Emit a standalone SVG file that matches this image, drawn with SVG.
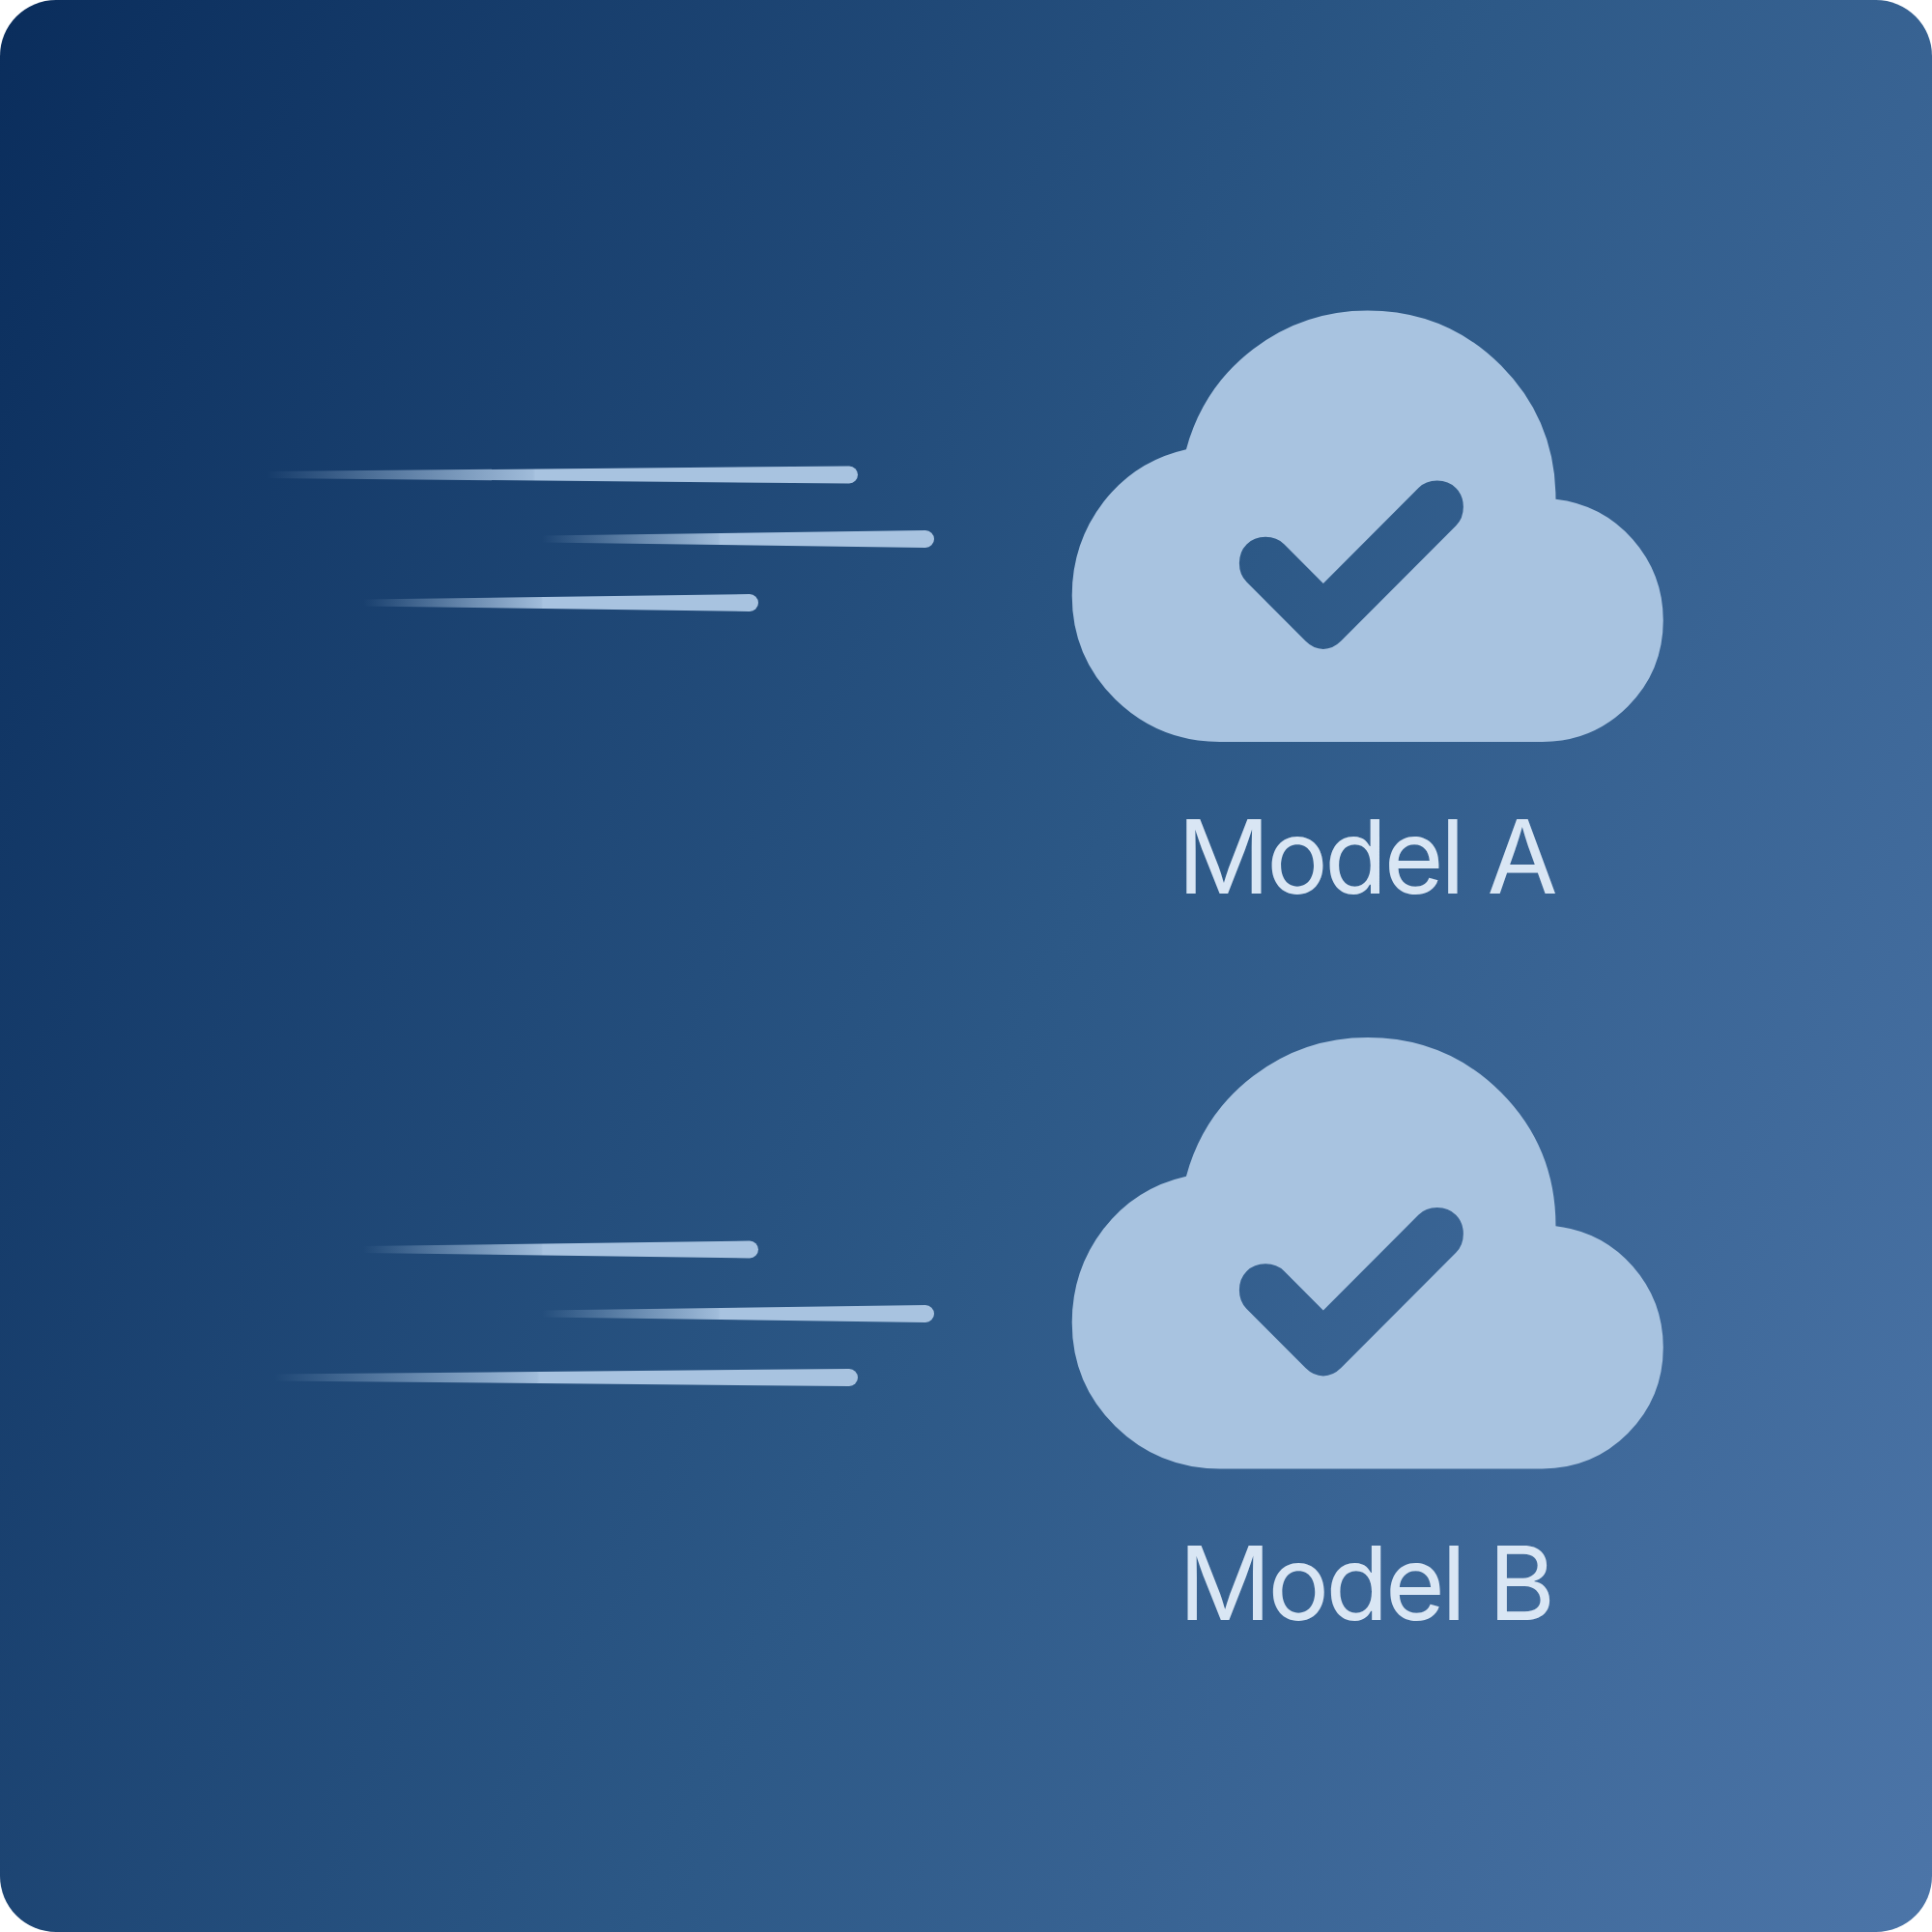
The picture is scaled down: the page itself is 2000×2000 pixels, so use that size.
<svg xmlns="http://www.w3.org/2000/svg" width="2000" height="2000" viewBox="0 0 2000 2000">
<defs>
<linearGradient id="bg" gradientUnits="userSpaceOnUse" x1="0" y1="0" x2="2414" y2="1034"><stop offset="0" stop-color="#0a2d5c"/><stop offset="0.53" stop-color="#2c5886"/><stop offset="1" stop-color="#4c75a8"/></linearGradient>
<linearGradient id="fade"><stop offset="0" stop-color="#a8c3e0" stop-opacity="0"/><stop offset="0.45" stop-color="#a8c3e0" stop-opacity="0.94"/><stop offset="0.455" stop-color="#a8c3e0"/><stop offset="1" stop-color="#a8c3e0"/></linearGradient>
<path id="cloud" fill-rule="evenodd" d="M414-395L356-453Q345-464 328-464T300-453Q289-442 289-425T300-397L387.500-309.500Q399.500-297.500 414-297.500T440.500-309.500L611.500-480.500Q622.500-491.500 622.500-508.500T611.500-536.500Q600.500-547.500 583.500-547.500T555.500-536.500L414-395ZM260-160q-91 0-155.500-63T40-377q0-78 47-139t123-78q25-92 100-149t170-57q117 0 198.500 81.500T760-520q69 8 114.500 59.500T920-340q0 75-52.500 127.500T740-160H260Z"/>
</defs>
<style>
.label{font-family:"Inter","Liberation Sans",sans-serif;font-size:106px;letter-spacing:-3.500px;fill:#d9e6f4;text-anchor:middle}
.icon{fill:#a8c3e0}
.line{fill:url(#fade)}
</style>
<rect id="background" width="2000" height="2000" rx="58" fill="url(#bg)"/>
<g id="speed-lines">
<path class="line" d="M276 488L879 482.500A9 9 0 0 1 879 500.500L276 495Z"/>
<path class="line" d="M561 554.500L958 549A9 9 0 0 1 958 567L561 561.500Z"/>
<path class="line" d="M376 620.500L776 615A9 9 0 0 1 776 633L376 627.500Z"/>
<path class="line" d="M376 1290L776 1284.500A9 9 0 0 1 776 1302.500L376 1297Z"/>
<path class="line" d="M561 1356.500L958 1351A9 9 0 0 1 958 1369L561 1363.500Z"/>
<path class="line" d="M284 1422.500L879 1417A9 9 0 0 1 879 1435L284 1429.500Z"/>
</g>
<g id="model-a"><use href="#cloud" class="icon" transform="translate(1081.900 879.500) scale(.6955 .6975)"/><text class="label" x="1414" y="925">Model A</text></g>
<g id="model-b"><use href="#cloud" class="icon" transform="translate(1081.900 1632) scale(.6955 .6975)"/><text class="label" x="1413.500" y="1677">Model B</text></g>
</svg>
